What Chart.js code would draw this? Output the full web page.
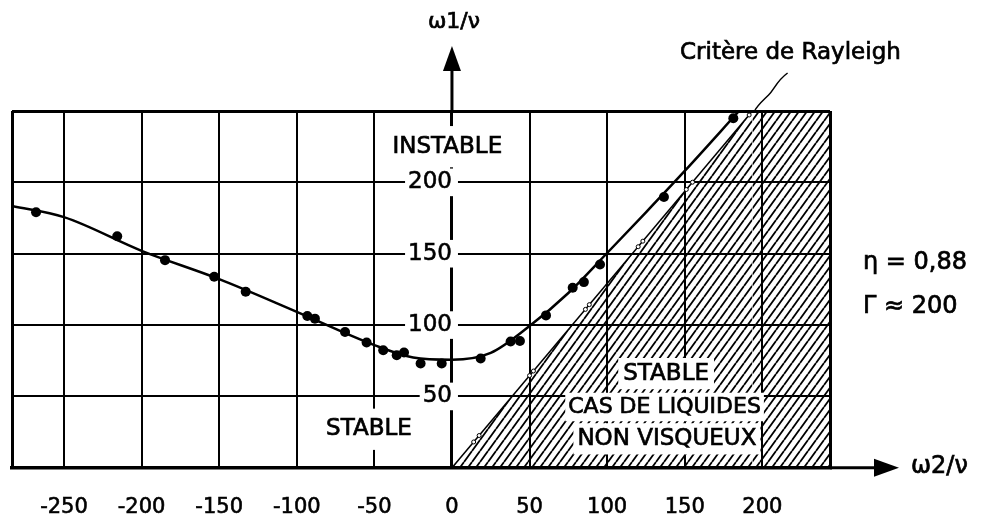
<!DOCTYPE html>
<html>
<head>
<meta charset="utf-8">
<script src="https://cdn.jsdelivr.net/npm/chart.js@4.4.0/dist/chart.umd.min.js"></script>
<style>
html,body{margin:0;padding:0;background:#fff;}
#wrap{width:988px;height:520px;position:relative;}
</style>
</head>
<body>
<div id="wrap"><canvas id="c" width="988" height="520"></canvas></div>
<script>
// ---- data ----
const xTickValues = [-250, -200, -150, -100, -50, 0, 50, 100, 150, 200];
const yTickValues = [50, 100, 150, 200];
const xRange = [-283.5, 243.6];
const yRange = [0, 250];

// measured points (filled dots)
const dotsX = [-268, -215.7, -184.9, -153.2, -132.9, -93.2, -88.3, -68.9, -55, -44.3, -35.6, -30.9, -20.2, -6.6, 18.5, 37.8, 43.8, 60.6, 77.8, 85, 95.4, 136.6, 181.3];
const dotsY = [179, 162.2, 145.5, 133.9, 123.4, 106.4, 104.5, 95.2, 87.8, 82.4, 78.9, 80.8, 73.1, 73.1, 76.6, 88.5, 88.9, 106.8, 126.2, 130.1, 142.5, 189.7, 244.9];

// drawn stability curve
const curveX = [-283.5, -250, -200, -150, -100, -50, -25, 0, 25, 50, 75, 100, 125, 150, 185];
const curveY = [183.4, 175.6, 152, 132.2, 109.3, 86, 77.3, 75.7, 80.5, 99.3, 122.5, 150.5, 179, 208, 250];

// Rayleigh criterion line (boundary of hatched region)
const rayleighX = [0, 193.6, 243.6];
const rayleighY = [0, 250, 250];

// small open circles along the Rayleigh line
const openX = [14, 17.5, 50, 52.5, 86, 88.5, 120, 123, 151, 155, 191.5];
const openY = [18.1, 22.6, 64.6, 67.8, 111, 114.3, 154.9, 158.8, 195, 200.1, 247.2];

const FONT = 'DejaVu Sans';
Chart.defaults.font.family = FONT;
Chart.defaults.color = '#000';

const zip = (xs, ys) => xs.map((v, i) => ({x: v, y: ys[i]}));

function makeHatch() {
  const c = document.createElement('canvas');
  c.width = 8; c.height = 11;
  const g = c.getContext('2d');
  g.strokeStyle = '#000';
  g.lineWidth = 1.8;
  g.beginPath();
  for (const o of [-8, 0, 8]) { g.moveTo(o, 11); g.lineTo(o + 8, 0); }
  g.stroke();
  return g.createPattern(c, 'repeat');
}

function drawText(ctx, text, px, py, size, align) {
  ctx.font = size + 'px "' + FONT + '"';
  ctx.textAlign = align || 'center';
  ctx.textBaseline = 'middle';
  ctx.fillStyle = '#000';
  ctx.strokeStyle = '#000';
  ctx.lineWidth = 0.7;
  ctx.fillText(text, px, py);
  ctx.strokeText(text, px, py);
}

function boxText(ctx, text, cx, cy, size, padX, padY) {
  ctx.font = size + 'px "' + FONT + '"';
  const w = ctx.measureText(text).width;
  const h = size * 0.75;
  ctx.fillStyle = '#fff';
  ctx.fillRect(cx - w / 2 - padX, cy - h / 2 - padY, w + 2 * padX, h + 2 * padY);
  drawText(ctx, text, cx, cy, size, 'center');
}

const decor = {
  id: 'decor',
  afterDraw(chart) {
    const {ctx, chartArea: a, scales: {x, y}} = chart;
    const x0 = x.getPixelForValue(0), y0 = y.getPixelForValue(0);
    ctx.save();
    ctx.strokeStyle = '#000';
    ctx.fillStyle = '#000';
    ctx.lineWidth = 3;
    // vertical axis extension and arrow
    ctx.beginPath(); ctx.moveTo(x0, a.top); ctx.lineTo(x0, 66); ctx.stroke();
    ctx.beginPath(); ctx.moveTo(x0, 46); ctx.lineTo(x0 - 9, 71); ctx.lineTo(x0 + 9, 71); ctx.closePath(); ctx.fill();
    // horizontal axis extension and arrow
    ctx.beginPath(); ctx.moveTo(a.right, y0); ctx.lineTo(878, y0); ctx.stroke();
    ctx.beginPath(); ctx.moveTo(899, y0); ctx.lineTo(874, y0 - 9); ctx.lineTo(874, y0 + 9); ctx.closePath(); ctx.fill();

    // axis titles
    drawText(ctx, 'ω1/ν', x0 + 2, 22, 22, 'center');
    drawText(ctx, 'ω2/ν', 911, y0 - 1, 24, 'left');

    // region labels (white background)
    const P = (vx, vy) => [x.getPixelForValue(vx), y.getPixelForValue(vy)];
    let p;
    p = P(-3, 225); boxText(ctx, 'INSTABLE', p[0], p[1], 23, 3, 12);
    p = P(-53.5, 27); boxText(ctx, 'STABLE', p[0], p[1], 23, 4, 12);
    p = P(138, 66); boxText(ctx, 'STABLE', p[0], p[1], 23, 5, 7);
    p = P(137, 42.6); boxText(ctx, 'CAS DE LIQUIDES', p[0], p[1], 22, 3, 6);
    p = P(138.5, 20.3); boxText(ctx, 'NON VISQUEUX', p[0], p[1], 23, 4, 7);

    // Rayleigh label and leader line
    drawText(ctx, 'Critère de Rayleigh', 680, 53, 23, 'left');
    const e = P(195, 250);
    ctx.strokeStyle = '#000';
    ctx.lineWidth = 1.5;
    ctx.beginPath();
    ctx.moveTo(e[0] + 33, e[1] - 38);
    ctx.bezierCurveTo(e[0] + 22, e[1] - 30, e[0] + 20, e[1] - 22, e[0] + 14, e[1] - 16);
    ctx.bezierCurveTo(e[0] + 8, e[1] - 10, e[0] + 3, e[1] - 6, e[0], e[1]);
    ctx.stroke();

    // parameters
    drawText(ctx, 'η = 0,88', 863, 263, 24, 'left');
    drawText(ctx, 'Γ ≈ 200', 863, 307, 24, 'left');
    ctx.restore();
  }
};

const isEdgeX = v => v === xRange[0] || v === xRange[1];
const isEdgeY = v => v === yRange[1];

new Chart(document.getElementById('c'), {
  type: 'line',
  data: {
    datasets: [
      {
        label: 'Rayleigh',
        data: zip(rayleighX, rayleighY),
        fill: 'origin',
        backgroundColor: makeHatch(),
        borderWidth: 1.5,
        borderColor: '#000',
        segment: { borderColor: c => c.p0DataIndex === 0 ? '#000' : 'rgba(0,0,0,0)' },
        pointRadius: 0,
        tension: 0,
        order: 4
      },
      {
        label: 'open',
        data: zip(openX, openY),
        showLine: false,
        pointRadius: 2,
        pointBackgroundColor: '#fff',
        pointBorderColor: '#000',
        pointBorderWidth: 1,
        order: 3
      },
      {
        label: 'curve',
        data: zip(curveX, curveY),
        borderColor: '#000',
        borderWidth: 2.5,
        pointRadius: 0,
        cubicInterpolationMode: 'monotone',
        fill: false,
        order: 2
      },
      {
        label: 'dots',
        data: zip(dotsX, dotsY),
        showLine: false,
        pointRadius: 5,
        pointBackgroundColor: '#000',
        pointBorderColor: '#000',
        pointBorderWidth: 0,
        order: 1
      }
    ]
  },
  options: {
    responsive: false,
    devicePixelRatio: 1,
    animation: false,
    layout: { padding: { left: 12, right: 158, top: 111, bottom: 0 } },
    plugins: { legend: { display: false }, tooltip: { enabled: false } },
    scales: {
      x: {
        type: 'linear',
        min: xRange[0],
        max: xRange[1],
        afterBuildTicks: s => { s.ticks = [xRange[0], ...xTickValues, xRange[1]].map(v => ({value: v})); },
        grid: {
          color: '#000',
          lineWidth: c => isEdgeX(c.tick.value) ? 3 : 2,
          drawTicks: true,
          tickLength: 27,
          tickColor: 'rgba(0,0,0,0)'
        },
        border: { display: true, color: '#000', width: 3.5 },
        ticks: {
          autoSkip: false,
          maxRotation: 0,
          padding: 0,
          font: { size: 21 },
          color: '#000',
          textStrokeColor: '#000',
          textStrokeWidth: 0.6,
          callback: v => xTickValues.includes(v) ? String(v) : ''
        }
      },
      y: {
        type: 'linear',
        position: { x: 0 },
        min: yRange[0],
        max: yRange[1],
        afterBuildTicks: s => { s.ticks = [0, ...yTickValues, yRange[1]].map(v => ({value: v})); },
        grid: {
          color: '#000',
          lineWidth: c => isEdgeY(c.tick.value) ? 3 : 2,
          drawTicks: true,
          tickLength: 8,
          tickColor: 'rgba(0,0,0,0)'
        },
        border: { display: true, color: '#000', width: 3 },
        ticks: {
          padding: 0,
          font: { size: 23 },
          color: '#000',
          textStrokeColor: '#000',
          textStrokeWidth: 0.6,
          showLabelBackdrop: true,
          backdropColor: c => (c.tick && yTickValues.includes(c.tick.value)) ? '#fff' : 'rgba(0,0,0,0)',
          backdropPadding: { left: 3, right: 6, top: 0, bottom: 0 },
          callback: v => yTickValues.includes(v) ? String(v) : ''
        }
      }
    }
  },
  plugins: [decor]
});
</script>
</body>
</html>
